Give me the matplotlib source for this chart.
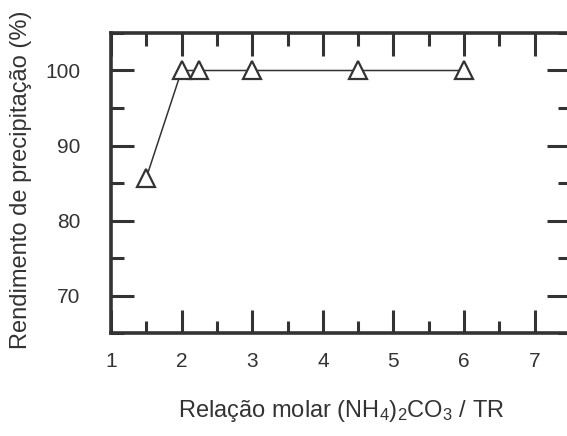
import numpy as np
import matplotlib
matplotlib.use("Agg")
import matplotlib.pyplot as plt
from matplotlib.ticker import MultipleLocator

plt.rcParams['font.family'] = ['Liberation Sans', 'DejaVu Sans']
plt.rcParams['mathtext.fontset'] = 'custom'
plt.rcParams['mathtext.rm'] = 'Liberation Sans'
plt.rcParams['mathtext.it'] = 'Liberation Sans'

# data
razao_molar = [1.5, 2.0, 2.25, 3.0, 4.5, 6.0]
rendimento = [85.7, 100.0, 100.0, 100.0, 100.0, 100.0]

ink = '#333333'

fig = plt.figure(figsize=(5.67, 4.36), dpi=100)
ax = fig.add_axes([111/567, (436-333)/436, 459/567, 300/436])

ax.plot(razao_molar, rendimento, color=ink, lw=1.1, marker='^', ms=13,
        mfc='white', mec=ink, mew=1.6)

ax.set_xlim(1, 7.5)
ax.set_ylim(65, 105)
ax.xaxis.set_major_locator(MultipleLocator(1))
ax.xaxis.set_minor_locator(MultipleLocator(0.5))
ax.yaxis.set_major_locator(MultipleLocator(10))
ax.yaxis.set_minor_locator(MultipleLocator(5))

for s in ax.spines.values():
    s.set_linewidth(2.6)
    s.set_color(ink)

ax.tick_params(which='both', direction='in', top=True, right=True,
               color=ink, width=2.2, labelsize=15, labelcolor=ink)
ax.tick_params(which='major', length=16.5)
ax.tick_params(which='minor', length=9)
ax.tick_params(axis='x', which='major', pad=14)
ax.tick_params(axis='y', which='major', pad=22)

ax.set_xlabel(r'Relação molar (NH$_4$)$_2$CO$_3$ / TR', fontsize=17, color=ink)
ax.set_ylabel('Rendimento de precipitação (%)', fontsize=17, color=ink)
ax.xaxis.set_label_coords(0.501, -0.215)
ax.yaxis.set_label_coords(-0.172, 0.51)

fig.savefig('out.png', dpi=100)
